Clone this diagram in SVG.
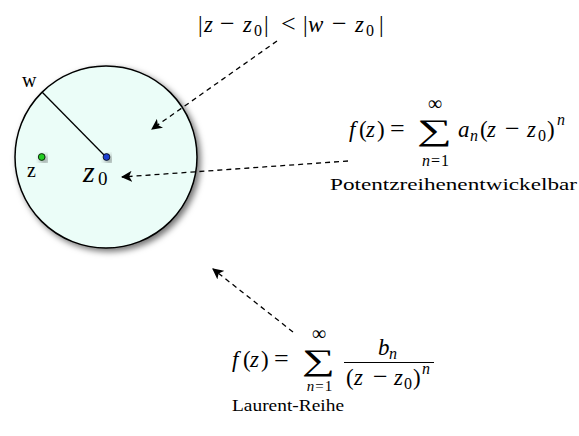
<svg xmlns="http://www.w3.org/2000/svg" width="579" height="436" viewBox="0 0 579 436">
<defs>
<style>
.t{font-family:"Liberation Serif","DejaVu Serif",serif;fill:#000}
.i{font-style:italic}
.m{font-size:23px}
.s{font-size:16px}
.op{font-size:26px}
.c{text-anchor:middle}
.con{stroke:#000;stroke-width:1.3;stroke-dasharray:5,4;fill:none;marker-end:url(#ah)}
</style>
<marker id="ah" viewBox="0 0 10 10" refX="9" refY="5" markerWidth="11" markerHeight="11" markerUnits="userSpaceOnUse" orient="auto">
<path d="M0,0 L10,5 L0,10 L2.5,5 Z" fill="#000"/>
</marker>
<filter id="sh" x="-20%" y="-20%" width="150%" height="150%">
<feDropShadow dx="3" dy="3" stdDeviation="3" flood-color="#000" flood-opacity="0.55"/>
</filter>
</defs>
<rect width="579" height="436" fill="#fff"/>
<g id="disk">
<circle cx="106" cy="157" r="91" fill="#ebfdf8" stroke="#000" stroke-width="1.5" filter="url(#sh)"/>
<line x1="42" y1="92" x2="106" y2="157" stroke="#000" stroke-width="1.3"/>
<text class="t" x="22" y="87" font-size="20">w</text>
</g>
<g id="point-z">
<circle cx="41.7" cy="157" r="3.4" fill="#22cc22" stroke="#000" stroke-width="0.8" filter="url(#sh)"/>
<text class="t" x="27" y="177" font-size="20">z</text>
</g>
<g id="point-z0">
<circle cx="106.5" cy="157" r="3.4" fill="#1f3fd0" stroke="#000" stroke-width="0.8" filter="url(#sh)"/>
<text class="t i" x="83" y="182" font-size="30">z</text>
<text class="t" x="98" y="185" font-size="19">0</text>
</g>
<g id="label-top">
<text class="t m" y="32"><tspan x="198">|</tspan><tspan class="i" x="204">z</tspan><tspan x="264">|</tspan><tspan x="303">|</tspan><tspan class="i" x="308">w</tspan><tspan class="i" x="355">z</tspan><tspan x="379">|</tspan></text>
<text class="t op" y="32"><tspan x="220">−</tspan><tspan x="281">&lt;</tspan><tspan x="332">−</tspan></text>
<text class="t m i" x="243" y="32">z</text>
<text class="t s" y="36"><tspan x="254">0</tspan><tspan x="366">0</tspan></text>
</g>
<g id="label-potenz">
<text class="t m" y="137"><tspan class="i" x="349">f</tspan><tspan x="359">(</tspan><tspan class="i" x="366">z</tspan><tspan x="377">)</tspan><tspan class="i" x="458">a</tspan><tspan x="480">(</tspan><tspan class="i" x="487">z</tspan><tspan class="i" x="527">z</tspan><tspan x="547">)</tspan></text>
<text class="t op" y="137"><tspan x="390">=</tspan><tspan x="505">−</tspan></text>
<text class="t s" y="141"><tspan class="i" x="470">n</tspan><tspan x="538">0</tspan></text>
<text class="t s i" x="557" y="125">n</text>
<text class="t" x="417" y="140" font-size="30" textLength="35" lengthAdjust="spacingAndGlyphs">∑</text>
<text class="t c" x="435" y="110" font-size="20">∞</text>
<text class="t s c" x="436" y="166" letter-spacing="1"><tspan class="i">n</tspan>=1</text>
<text class="t" x="330" y="190" font-size="17" textLength="247" lengthAdjust="spacingAndGlyphs">Potentzreihenentwickelbar</text>
</g>
<g id="label-laurent">
<text class="t m" y="367"><tspan class="i" x="232">f</tspan><tspan x="243">(</tspan><tspan class="i" x="250">z</tspan><tspan x="261">)</tspan></text>
<text class="t op" x="274" y="367">=</text>
<text class="t" x="302" y="370" font-size="30" textLength="33" lengthAdjust="spacingAndGlyphs">∑</text>
<text class="t c" x="319" y="340" font-size="20">∞</text>
<text class="t c" x="320" y="391" font-size="15" letter-spacing="1"><tspan class="i">n</tspan>=1</text>
<text class="t m i" x="378" y="355">b</text>
<text class="t s i" x="389" y="359">n</text>
<line x1="344" y1="362.5" x2="434" y2="362.5" stroke="#000" stroke-width="1"/>
<text class="t m" y="385"><tspan x="346">(</tspan><tspan class="i" x="354">z</tspan><tspan class="i" x="394">z</tspan><tspan x="413">)</tspan></text>
<text class="t op" x="373" y="385">−</text>
<text class="t s" x="404" y="389">0</text>
<text class="t s i" x="422" y="374">n</text>
<text class="t" x="232" y="411" font-size="17" textLength="112" lengthAdjust="spacingAndGlyphs">Laurent-Reihe</text>
</g>
<g id="connectors">
<line class="con" x1="277" y1="41" x2="152" y2="129"/>
<line class="con" x1="348" y1="161" x2="122" y2="177"/>
<line class="con" x1="293" y1="332" x2="213" y2="269"/>
</g>
</svg>
